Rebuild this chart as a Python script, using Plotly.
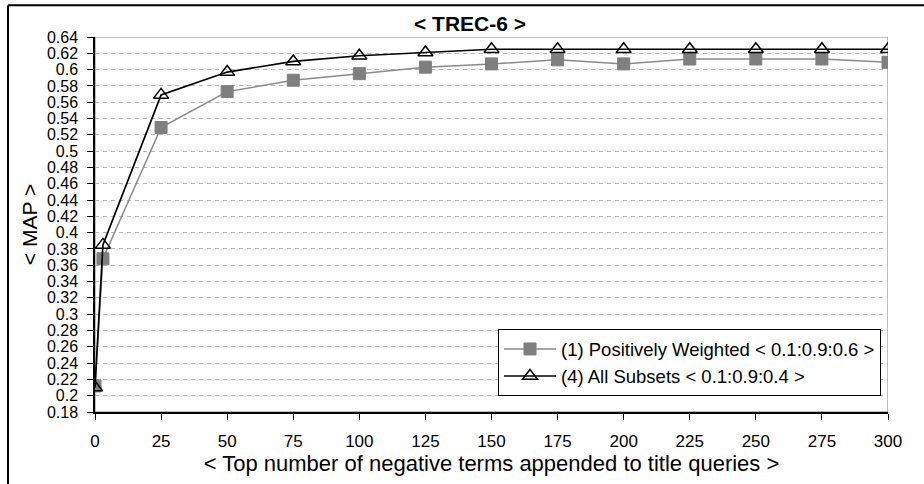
import plotly.graph_objects as go

# Number of negative terms appended to title queries
terms = [0, 3, 25, 50, 75, 100, 125, 150, 175, 200, 225, 250, 275, 300]

# MAP for each run
positively_weighted = [0.212, 0.368, 0.529, 0.573, 0.587, 0.595, 0.603, 0.607,
                       0.612, 0.607, 0.613, 0.613, 0.613, 0.609]
all_subsets = [0.210, 0.385, 0.569, 0.597, 0.610, 0.617, 0.621, 0.625,
               0.625, 0.625, 0.625, 0.625, 0.625, 0.625]

series_names = ["(1) Positively Weighted < 0.1:0.9:0.6 >",
                "(4) All Subsets < 0.1:0.9:0.4 >"]

x_ticks = [0, 25, 50, 75, 100, 125, 150, 175, 200, 225, 250, 275, 300]
y_ticks = [0.18, 0.2, 0.22, 0.24, 0.26, 0.28, 0.3, 0.32, 0.34, 0.36, 0.38, 0.4,
           0.42, 0.44, 0.46, 0.48, 0.5, 0.52, 0.54, 0.56, 0.58, 0.6, 0.62, 0.64]
y_tick_text = ["0.18", "0.2", "0.22", "0.24", "0.26", "0.28", "0.3", "0.32",
               "0.34", "0.36", "0.38", "0.4", "0.42", "0.44", "0.46", "0.48",
               "0.5", "0.52", "0.54", "0.56", "0.58", "0.6", "0.62", "0.64"]

FONT = "Liberation Sans, Arial, sans-serif"

fig = go.Figure()
fig.add_trace(go.Scatter(
    x=terms, y=positively_weighted, name=series_names[0],
    mode="lines+markers",
    line=dict(color="#8a8a8a", width=1.5),
    marker=dict(symbol="square", size=12, color="#7f7f7f",
                line=dict(color="#7f7f7f", width=1)),
))
fig.add_trace(go.Scatter(
    x=terms, y=all_subsets, name=series_names[1],
    mode="lines+markers",
    line=dict(color="#000000", width=1.7),
    marker=dict(symbol="triangle-up-open", size=13, color="#000000",
                line=dict(color="#000000", width=1.5)),
))

# Gray frame around the plotting area
fig.add_shape(type="rect", xref="x", yref="y", x0=0, x1=300, y0=0.18, y1=0.64,
              line=dict(color="#808080", width=1), layer="below")
# Outer chart border (left and top edges)
fig.add_shape(type="line", xref="paper", yref="paper",
              x0=(8 - 95) / 793, x1=(8 - 95) / 793, y0=(414 - 484) / 377 - 0.05,
              y1=(414 - 5) / 377, line=dict(color="#000000", width=2))
fig.add_shape(type="line", xref="paper", yref="paper",
              x0=(8 - 95) / 793, x1=(924 - 95) / 793 + 0.05,
              y0=(414 - 5) / 377, y1=(414 - 5) / 377,
              line=dict(color="#000000", width=2))

fig.update_layout(
    width=924, height=484,
    margin=dict(l=95, r=36, t=37, b=70),
    paper_bgcolor="white", plot_bgcolor="white",
    font=dict(family=FONT, color="#000000", size=16),
    title=dict(text="<b>< TREC-6 ></b>", x=(470 - 95) / 793, xref="paper",
               xanchor="center", y=1 - 24 / 484, yanchor="middle",
               font=dict(size=21, family=FONT)),
    showlegend=True,
    legend=dict(x=(498 - 95) / 793, y=(414 - 331) / 377, xanchor="left",
                yanchor="top", bordercolor="#000000", borderwidth=1,
                bgcolor="white", font=dict(size=18.5, family=FONT),
                tracegroupgap=2, itemwidth=52),
    xaxis=dict(
        range=[0, 300], tickvals=x_ticks, ticks="outside", ticklen=6,
        tickcolor="#000000", showline=True, linecolor="#000000", linewidth=1.5,
        showgrid=False, zeroline=False, tickfont=dict(size=17),
        ticklabelstandoff=7,
        title=dict(text="< Top number of negative terms appended to title queries >",
                   font=dict(size=22), standoff=5),
    ),
    yaxis=dict(
        range=[0.18, 0.64], tickvals=y_ticks, ticktext=y_tick_text,
        ticks="outside", ticklen=6, tickcolor="#000000", showline=True,
        linecolor="#000000", linewidth=1.5, zeroline=False,
        showgrid=True, gridcolor="#b4b4b4", griddash="4px,4px", gridwidth=1,
        tickfont=dict(size=16), ticklabelstandoff=6,
        title=dict(text="< MAP >", font=dict(size=21), standoff=4),
    ),
)

fig.write_html("out.html")
